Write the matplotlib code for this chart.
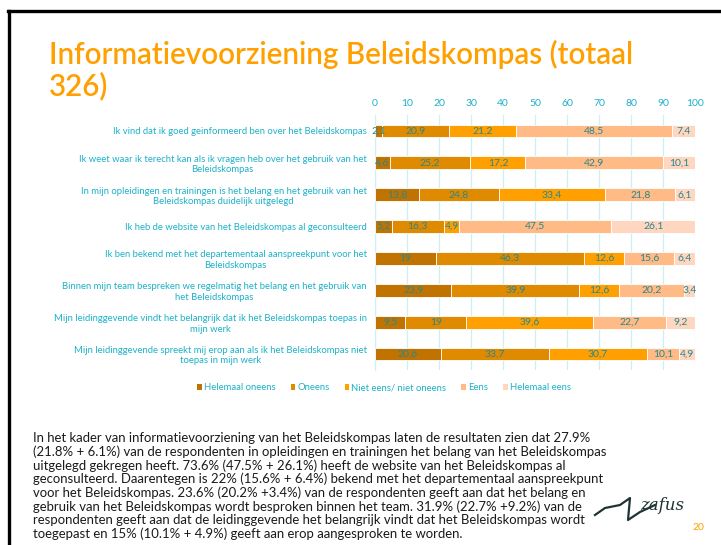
import matplotlib
matplotlib.use("Agg")
import matplotlib.pyplot as plt
import numpy as np
from matplotlib.lines import Line2D
from matplotlib.patches import Patch

plt.rcParams["font.family"] = ["Lato", "DejaVu Sans"]

statements = [
    "Ik vind dat ik goed geinformeerd ben over het Beleidskompas",
    "Ik weet waar ik terecht kan als ik vragen heb over het gebruik van het\nBeleidskompas",
    "In mijn opleidingen en trainingen is het belang en het gebruik van het\nBeleidskompas duidelijk uitgelegd",
    "Ik heb de website van het Beleidskompas al geconsulteerd",
    "Ik ben bekend met het departementaal aanspreekpunt voor het\nBeleidskompas",
    "Binnen mijn team bespreken we regelmatig het belang en het gebruik van\nhet Beleidskompas",
    "Mijn leidinggevende vindt het belangrijk dat ik het Beleidskompas toepas in\nmijn werk",
    "Mijn leidinggevende spreekt mij erop aan als ik het Beleidskompas niet\ntoepas in mijn werk",
]
answers = ["Helemaal oneens", "Oneens", "Niet eens/ niet oneens", "Eens", "Helemaal eens"]
helemaal_oneens = [2.1, 4.6, 13.8, 5.2, 19, 23.9, 9.5, 20.6]
oneens = [20.9, 25.2, 24.8, 16.3, 46.3, 39.9, 19, 33.7]
neutraal = [21.2, 17.2, 33.4, 4.9, 12.6, 12.6, 39.6, 30.7]
eens = [48.5, 42.9, 21.8, 47.5, 15.6, 20.2, 22.7, 10.1]
helemaal_eens = [7.4, 10.1, 6.1, 26.1, 6.4, 3.4, 9.2, 4.9]
colors = ["#C07300", "#E08A00", "#FFA000", "#FFBA85", "#FFD6C0"]

title = "Informatievoorziening Beleidskompas (totaal\n326)"
body = (
    "In het kader van informatievoorziening van het Beleidskompas laten de resultaten zien dat 27.9%\n"
    "(21.8% + 6.1%) van de respondenten in opleidingen en trainingen het belang van het Beleidskompas\n"
    "uitgelegd gekregen heeft. 73.6% (47.5% + 26.1%) heeft de website van het Beleidskompas al\n"
    "geconsulteerd. Daarentegen is 22% (15.6% + 6.4%) bekend met het departementaal aanspreekpunt\n"
    "voor het Beleidskompas. 23.6% (20.2% +3.4%) van de respondenten geeft aan dat het belang en\n"
    "gebruik van het Beleidskompas wordt besproken binnen het team. 31.9% (22.7% +9.2%) van de\n"
    "respondenten geeft aan dat de leidinggevende het belangrijk vindt dat het Beleidskompas wordt\n"
    "toegepast en 15% (10.1% + 4.9%) geeft aan erop aangesproken te worden."
)

label_cyan = "#1DB2C8"
value_teal = "#27878F"
orange = "#FFA000"

fig = plt.figure(figsize=(7.21, 5.45), dpi=100)
fig.patch.set_facecolor("white")

# slide frame (top and left edge)
fig.add_artist(Line2D([8 / 721, 1.0], [1 - 11 / 545, 1 - 11 / 545], color="black", lw=2.4))
fig.add_artist(Line2D([9 / 721, 9 / 721], [0.0, 1 - 11 / 545], color="black", lw=2.4))

fig.text(49 / 721, 1 - 40 / 545, title, color=orange, fontsize=21.3, fontweight="semibold",
         va="top", ha="left", linespacing=1.08)

ax = fig.add_axes([375 / 721, 1 - 370 / 545, 320 / 721, 255 / 545])
y = np.arange(len(statements))
series = [helemaal_oneens, oneens, neutraal, eens, helemaal_eens]
left = np.zeros(len(statements))
for vals, col, name in zip(series, colors, answers):
    vals = np.array(vals, dtype=float)
    bars = ax.barh(y, vals, left=left, height=0.4, color=col, edgecolor="white",
                   linewidth=0.6, label=name, zorder=3)
    labels = [("%g" % v).replace(".", ",") for v in vals]
    ax.bar_label(bars, labels=labels, label_type="center", color=value_teal, fontsize=7.5,
                 zorder=6)
    left += vals

ax.set_xlim(0, 100)
ax.set_ylim(len(statements) - 0.5, -0.5)
ax.set_xticks(np.arange(0, 101, 10))
ax.xaxis.tick_top()
ax.tick_params(axis="x", length=0, pad=5, labelsize=7.5, labelcolor=label_cyan)
ax.set_yticks(y)
ax.set_yticklabels(statements, fontsize=6.8, color=label_cyan, multialignment="center")
ax.tick_params(axis="y", length=0, pad=6)
ax.grid(axis="x", color="#CDEFF6", lw=0.9, zorder=0)
for s in ["top", "right", "bottom"]:
    ax.spines[s].set_visible(False)
ax.spines["left"].set_color("#CDEFF6")

handles = [Patch(facecolor=c, edgecolor="none") for c in colors]
fig.legend(handles, answers, loc="center", bbox_to_anchor=(384 / 721, 1 - 388 / 545), ncol=5,
           frameon=False, fontsize=6.8, labelcolor=label_cyan, handlelength=0.5, handleheight=0.5,
           handletextpad=0.2, columnspacing=1.6)

fig.text(33 / 721, 1 - 432 / 545, body, color="#1A1A1A", fontsize=9.45, va="top", ha="left",
         linespacing=1.12)

fig.text(698 / 721, 1 - 527 / 545, "20", color=orange, fontsize=7.5, ha="center", va="center")

# rough signature mark
sig_x = np.array([595, 605, 620, 630, 628, 640, 655])
fig.add_artist(Line2D(sig_x / 721, 1 - np.array([515, 508, 505, 498, 520, 512, 505]) / 545,
                      color="#1E3434", lw=1.6))
fig.text(640 / 721, 1 - 505 / 545, "zafus", color="#1E3434", fontsize=12, style="italic",
         family="DejaVu Serif", ha="left", va="center")

fig.savefig("out.png", dpi=100)
